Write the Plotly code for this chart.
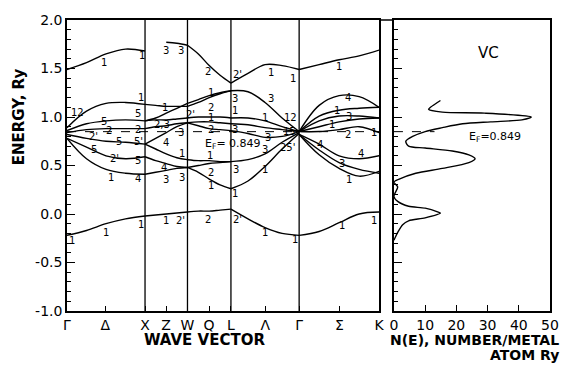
import plotly.graph_objects as go

# ---------------- data ----------------
# symmetry points along the path (Gamma, X, W, L, Gamma, K) in path units
SYM_K = [0.0, 1.0, 1.544, 2.101, 2.975, 4.0]
# fractional sample positions inside each segment
FRAC = [0.0, 0.25, 0.5, 0.75, 1.0]

TICK_K = [0.0, 0.49, 1.0, 1.27, 1.544, 1.82, 2.101, 2.54, 2.975, 3.49, 4.0]
TICK_TEXT = ["Γ", "Δ", "X", "Z", "W", "Q", "L", "Λ", "Γ", "Σ", "K"]

FERMI = 0.849

# energies (Ry) of each band at FRAC positions, per segment
GX_BANDS = [
    [1.49, 1.56, 1.65, 1.70, 1.68],
    [0.89, 1.06, 1.14, 1.15, 1.13],
    [0.86, 0.93, 0.96, 0.97, 0.96],
    [0.84, 0.87, 0.88, 0.88, 0.88],
    [0.82, 0.78, 0.75, 0.74, 0.72],
    [0.78, 0.69, 0.60, 0.57, 0.59],
    [0.78, 0.57, 0.46, 0.42, 0.41],
    [-0.22, -0.17, -0.10, -0.05, -0.02],
]
XW_BANDS = [
    [None, None, 1.77, 1.76, 1.74],
    [1.13, 1.12, 1.11, 1.11, 1.11],
    [0.96, 0.99, 1.04, 1.09, 1.14],
    [0.96, 0.97, 0.97, 0.98, 0.99],
    [0.88, 0.90, 0.91, 0.93, 0.94],
    [0.72, 0.78, 0.84, 0.90, 0.94],
    [0.72, 0.67, 0.62, 0.58, 0.56],
    [0.59, 0.55, 0.52, 0.49, 0.48],
    [0.41, 0.43, 0.45, 0.47, 0.48],
    [-0.02, -0.01, 0.00, 0.01, 0.02],
]
WL_BANDS = [
    [1.74, 1.65, 1.53, 1.43, 1.35],
    [1.14, 1.18, 1.22, 1.25, 1.27],
    [1.11, 1.15, 1.20, 1.24, 1.27],
    [0.99, 1.00, 1.00, 1.00, 0.99],
    [0.94, 0.95, 0.95, 0.94, 0.93],
    [0.94, 0.91, 0.88, 0.87, 0.86],
    [0.56, 0.55, 0.55, 0.54, 0.54],
    [0.48, 0.50, 0.52, 0.53, 0.54],
    [0.48, 0.43, 0.36, 0.30, 0.26],
    [0.02, 0.03, 0.03, 0.04, 0.05],
]
LG_BANDS = [
    [1.35, 1.45, 1.54, 1.53, 1.49],
    [1.27, 1.26, 1.15, 0.99, 0.85],
    [0.99, 0.99, 0.96, 0.90, 0.85],
    [0.93, 0.92, 0.89, 0.87, 0.85],
    [0.86, 0.83, 0.79, 0.80, 0.85],
    [0.54, 0.56, 0.62, 0.74, 0.84],
    [0.26, 0.34, 0.49, 0.67, 0.83],
    [0.05, -0.05, -0.14, -0.20, -0.22],
]
GK_BANDS = [
    [1.49, 1.54, 1.59, 1.63, 1.69],
    [0.85, 1.12, 1.22, 1.21, 1.10],
    [0.85, 1.01, 1.07, 1.09, 1.10],
    [0.85, 0.96, 1.01, 1.01, 0.99],
    [0.85, 0.90, 0.95, 0.98, 0.99],
    [0.85, 0.85, 0.87, 0.90, 0.84],
    [0.82, 0.72, 0.60, 0.57, 0.60],
    [0.82, 0.66, 0.53, 0.46, 0.42],
    [0.82, 0.61, 0.47, 0.39, 0.44],
    [-0.22, -0.18, -0.09, 0.00, 0.02],
]
SEGMENTS = [GX_BANDS, XW_BANDS, WL_BANDS, LG_BANDS, GK_BANDS]

# density of states N(E) (states / metal atom Ry) versus energy
DOS_E = [1.17, 1.10, 1.08, 1.05, 1.04, 1.00, 0.97, 0.95, 0.93, 0.89, 0.85, 0.80,
         0.75, 0.70, 0.68, 0.65, 0.61, 0.57, 0.53, 0.47, 0.42, 0.36, 0.33, 0.28,
         0.18, 0.13, 0.08, 0.06, 0.02, 0.01, -0.04, -0.07, -0.11, -0.19, -0.27]
DOS_N = [14.9, 11.7, 11.1, 15.5, 29.0, 44.0, 41.0, 31.0, 22.0, 15.5, 10.0, 6.0,
         3.8, 4.7, 10.0, 18.7, 24.0, 26.0, 24.0, 15.5, 7.0, 1.7, 0.0, 1.2,
         0.0, 1.2, 4.7, 10.0, 14.2, 14.9, 10.0, 4.7, 2.8, 1.2, 0.0]

# symmetry labels of the bands: text, k, E
LABEL_TEXT = ["1", "1", "12", "5", "1", "5", "2'", "2", "2", "5", "5'", "5", "2'", "5",
              "1", "4", "1", "1", "1", "15", "25'",
              "3", "3", "1", "2,3", "3", "4", "1", "4", "3", "3", "1", "2'", "2'",
              "2", "2'", "1", "2", "3", "1", "1", "2", "3", "1", "2", "3", "1", "1",
              "2", "2'",
              "1", "1", "3", "1", "12", "15", "3", "3", "25'", "1", "1", "1",
              "1", "4", "1", "3", "1", "2", "4", "4", "3", "1", "2", "1", "1", "3",
              "1", "1"]
LABEL_K = [0.48, 0.96, 0.13, 0.48, 0.95, 0.91, 0.34, 0.54, 0.91, 0.66, 0.91, 0.34, 0.61, 0.91,
           0.57, 0.91, 0.06, 0.50, 0.95, -0.13, -0.12,
           1.27, 1.46, 1.25, 1.22, 1.46, 1.27, 1.48, 1.24, 1.27, 1.48, 1.27, 1.45, 1.58,
           1.81, 2.19, 1.84, 1.85, 2.15, 2.15, 1.84, 1.84, 2.15, 1.83, 1.85, 2.16, 1.84, 2.15,
           1.81, 2.19,
           2.61, 2.89, 2.61, 2.54, 2.86, 2.85, 2.57, 2.54, 2.82, 2.54, 2.54, 2.92,
           3.49, 3.60, 3.46, 3.62, 3.39, 3.60, 3.24, 3.77, 3.52, 3.61, 4.06, 3.94, 4.03, 4.05,
           3.52, 3.94]
LABEL_E = [1.56, 1.63, 1.05, 0.95, 1.20, 1.04, 0.80, 0.86, 0.87, 0.75, 0.75, 0.67, 0.57, 0.55,
           0.38, 0.37, -0.27, -0.19, -0.11, 0.83, 0.69,
           1.69, 1.69, 1.10, 0.92, 0.84, 0.74, 0.62, 0.48, 0.36, 0.38, -0.07, -0.07, 1.03,
           1.47, 1.44, 1.25, 1.10, 1.19, 1.07, 0.99, 0.87, 0.87, 0.60, 0.43, 0.46, 0.29, 0.21,
           -0.06, -0.06,
           1.46, 1.40, 1.19, 1.00, 1.00, 0.85, 0.79, 0.67, 0.69, 0.46, -0.19, -0.26,
           1.52, 1.20, 1.07, 1.01, 0.92, 0.82, 0.72, 0.62, 0.52, 0.36, 0.99, 0.84, 0.52, 0.41,
           -0.12, -0.07]

# ---------------- figure ----------------
fig = go.Figure()
LINE = dict(color="black", width=1.4)

for i, seg in enumerate(SEGMENTS):
    k0, k1 = SYM_K[i], SYM_K[i + 1]
    for band in seg:
        xs, ys = [], []
        for f, e in zip(FRAC, band):
            if e is not None:
                xs.append(k0 + f * (k1 - k0))
                ys.append(e)
        fig.add_trace(go.Scatter(x=xs, y=ys, mode="lines", line=dict(LINE, shape="spline"),
                                 xaxis="x", yaxis="y", showlegend=False, hoverinfo="skip"))

fig.add_trace(go.Scatter(x=DOS_N, y=DOS_E, mode="lines",
                         line=dict(color="black", width=1.4, shape="spline", smoothing=0.8),
                         xaxis="x2", yaxis="y2", showlegend=False, hoverinfo="skip"))

shapes = []
for k in SYM_K[1:5]:
    shapes.append(dict(type="line", xref="x", yref="y domain", x0=k, x1=k, y0=0, y1=1,
                       line=dict(color="black", width=1.3)))
shapes.append(dict(type="line", xref="x", yref="y", x0=SYM_K[0], x1=SYM_K[-1], y0=FERMI, y1=FERMI,
                   line=dict(color="black", width=1, dash="dash")))
shapes.append(dict(type="line", xref="x2", yref="y2", x0=0, x1=13, y0=FERMI, y1=FERMI,
                   line=dict(color="black", width=1, dash="dash")))

d1 = 316 / 489
d2 = 331 / 489
shapes.append(dict(type="line", xref="paper", yref="paper", x0=d1, x1=d2, y0=1, y1=1,
                   line=dict(color="black", width=1.5)))

LABEL_FONT = dict(family="DejaVu Sans", size=10, color="black")
annotations = []
for t, k, e in zip(LABEL_TEXT, LABEL_K, LABEL_E):
    annotations.append(dict(x=k, y=e, xref="x", yref="y", text=t, showarrow=False,
                            xanchor="center", yanchor="middle", font=LABEL_FONT))

TITLE_FONT = dict(family="DejaVu Sans", size=15, color="black")
annotations += [
    dict(x=1.74, y=0.72, xref="x", yref="y", text="E<sub>F</sub>= 0.849", showarrow=False,
         xanchor="left", yanchor="middle", font=dict(family="DejaVu Sans", size=11, color="black")),
    dict(x=23.5, y=0.79, xref="x2", yref="y2", text="E<sub>F</sub>=0.849", showarrow=False,
         xanchor="left", yanchor="middle", font=dict(family="DejaVu Sans", size=11, color="black")),
    dict(x=30.4, y=1.66, xref="x2", yref="y2", text="VC", showarrow=False,
         xanchor="center", yanchor="middle", font=dict(family="DejaVu Sans", size=15, color="black")),
    dict(x=-0.10, y=0.668, xref="paper", yref="paper", text="<b>ENERGY, Ry</b>", textangle=-90,
         showarrow=False, xanchor="center", yanchor="middle", font=TITLE_FONT),
    dict(x=0.284, y=-0.10, xref="paper", yref="paper", text="<b>WAVE VECTOR</b>",
         showarrow=False, xanchor="center", yanchor="middle", font=TITLE_FONT),
    dict(x=1.022, y=-0.10, xref="paper", yref="paper", text="<b>N(E), NUMBER/METAL</b>",
         xanchor="right", yanchor="middle", showarrow=False,
         font=dict(family="DejaVu Sans", size=14, color="black")),
    dict(x=1.022, y=-0.15, xref="paper", yref="paper", text="<b>ATOM Ry</b>",
         xanchor="right", yanchor="middle", showarrow=False,
         font=dict(family="DejaVu Sans", size=14, color="black")),
]

AX = dict(showline=True, linecolor="black", linewidth=1.5, mirror=True, showgrid=False,
          zeroline=False, ticks="inside", tickcolor="black",
          tickfont=dict(family="DejaVu Sans", size=14, color="black"))

fig.update_layout(
    width=571, height=366,
    margin=dict(l=67, r=15, t=13, b=55),
    paper_bgcolor="white", plot_bgcolor="white",
    showlegend=False,
    xaxis=dict(AX, domain=[0, d1], range=[SYM_K[0], SYM_K[-1]], tickvals=TICK_K,
               ticktext=TICK_TEXT, ticklen=5, anchor="y"),
    yaxis=dict(AX, range=[-1, 2], tickvals=[-1, -0.5, 0, 0.5, 1, 1.5, 2],
               ticktext=["-1.0", "-0.5", "0.0", "0.5", "1.0", "1.5", "2.0"], ticklen=8,
               minor=dict(dtick=0.1, ticks="inside", ticklen=4, tickcolor="black"),
               anchor="x"),
    xaxis2=dict(AX, domain=[d2, 1], range=[0, 50], tickvals=[0, 10, 20, 30, 40, 50],
                ticklen=6, anchor="y2"),
    yaxis2=dict(AX, range=[-1, 2], matches="y", showticklabels=False, anchor="x2",
                tickvals=[-1, -0.5, 0, 0.5, 1, 1.5, 2], ticklen=8,
                minor=dict(dtick=0.1, ticks="inside", ticklen=4, tickcolor="black")),
    shapes=shapes,
    annotations=annotations,
)

fig.write_html("out.html")
